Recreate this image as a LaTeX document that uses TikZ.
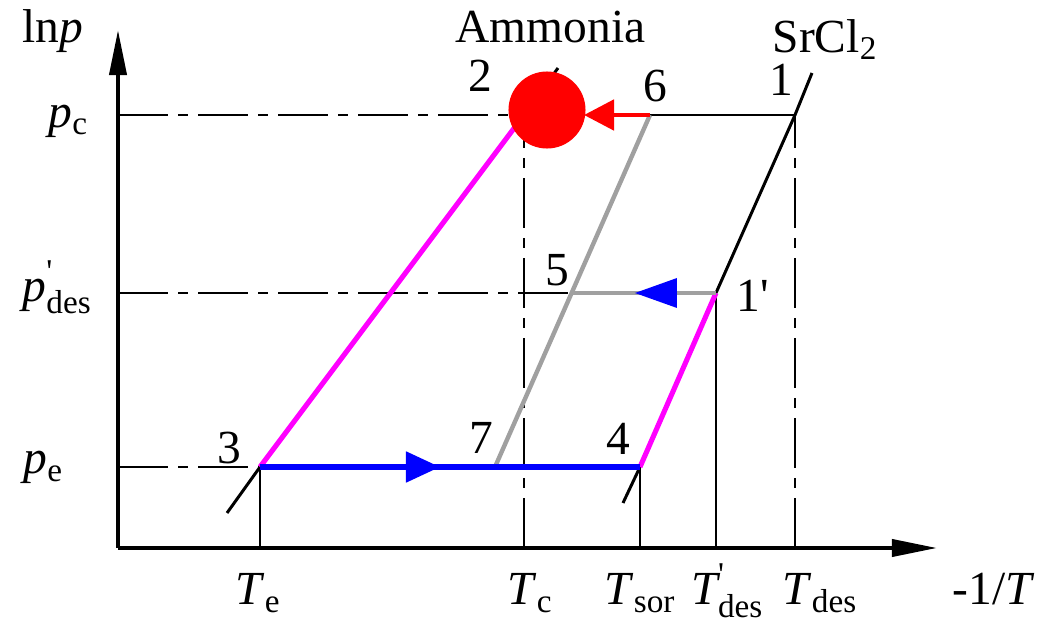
\documentclass[tikz,border=0pt]{standalone}
\usepackage{amsmath}
\usepackage{fontspec}
\setmainfont{Liberation Serif}
\usetikzlibrary{arrows.meta}
\definecolor{desmagenta}{RGB}{255, 0, 255}
\definecolor{flowblue}{RGB}{0, 0, 255}
\definecolor{heatgray}{RGB}{160, 160, 160}
\definecolor{flowred}{RGB}{255, 0, 0}

\tikzset{
  axisline/.style={line width=1.1pt, -{Triangle[length=0.45cm, width=0.17cm]}},
  guideline/.style={line width=0.85pt, dash pattern=on 0.5cm off 0.1cm on 0.1cm off 0.1cm},
  isoline/.style={line width=0.85pt},
  lbl/.style={font=\fontsize{13.5}{16}\selectfont, inner sep=0pt},
}

\begin{document}
\begin{tikzpicture}[x=0.01cm, y=-0.01cm, >=Stealth]
  \useasboundingbox (0,0) rectangle (1041,621);

  % Cycle state points
  \coordinate (O)   at (118,548);
  \coordinate (p1)  at (795,115);
  \coordinate (p1d) at (716,293);
  \coordinate (p2)  at (524,115);
  \coordinate (p3)  at (260,467);
  \coordinate (p4)  at (640,467);
  \coordinate (p5)  at (571,293);
  \coordinate (p6)  at (650,115);
  \coordinate (p7)  at (495,467);

  % Axes
  \coordinate (ytip) at (118,30);
  \coordinate (xtip) at (937,548);
  \draw[axisline] (O) -- (ytip);
  \draw[axisline] (O) -- (xtip);

  % Pressure levels
  \draw[guideline] (118,115) -- (p2);
  \draw[guideline] (118,293) -- (p5);
  \draw[guideline] (118,467) -- (p3);

  % Temperature drops to the axis
  \draw[guideline] (524,548) -- (p2);
  \draw[guideline] (795,548) -- (p1);
  \draw[isoline] (260,548) -- (p3);
  \draw[isoline] (640,548) -- (p4);
  \draw[isoline] (716,548) -- (p1d);

  % Isosteres and their short tails
  \coordinate (srtop) at (812,73);
  \coordinate (nhtop) at (558,68);
  \coordinate (tail3) at (227,513);
  \coordinate (tail4) at (623,503);
  \draw[isoline] (p1d) -- (p1) -- (srtop);
  \draw[isoline] (p2) -- (nhtop);
  \draw[isoline] (p3) -- (tail3);
  \draw[isoline] (p4) -- (tail4);
  \draw[isoline] (p6) -- (p1);

  % Heating and cooling legs
  \draw[desmagenta, line width=1.45pt] (p3) -- (p2);
  \draw[desmagenta, line width=1.45pt] (p4) -- (p1d);
  \draw[heatgray, line width=1.25pt] (p7) -- (p6);
  \draw[heatgray, line width=1.25pt] (p5) -- (p1d);

  % Evaporation leg
  \coordinate (bluetip) at (440,467);
  \draw[flowblue, line width=1.45pt] (p3) -- (p4);
  \draw[flowblue, line width=1.45pt, -{Triangle[length=0.34cm, width=0.3cm]}] (p3) -- (bluetip);
  \fill[flowblue] (635,293) -- (677,278) -- (677,308) -- cycle;

  % Condensation leg into the ammonia vessel
  \coordinate (redtip) at (584,115);
  \draw[flowred, line width=1.4pt, -{Triangle[length=0.3cm, width=0.3cm]}] (p6) -- (redtip);
  \fill[flowred] (547,110) circle[radius=0.385cm];

  % Axis labels
  \node[lbl, anchor=base west] (lnp) at (22,42) {ln\textit{p}};
  \node[lbl, anchor=base west] (pc) at (48,127) {\textit{p}\textsubscript{c}};
  \node[lbl, anchor=base west] (pdes) at (22,301) {$\textit{p}^{\text{\textquotesingle}}_{\text{des}}$};
  \node[lbl, anchor=base west] (pe) at (23,474) {\textit{p}\textsubscript{e}};
  \node[lbl, anchor=base west] (Te) at (235,605) {\textit{T}\textsubscript{e}};
  \node[lbl, anchor=base west] (Tc) at (507,605) {\textit{T}\textsubscript{c}};
  \node[lbl, anchor=base west] (Tsor) at (604,605) {\textit{T}\textsubscript{sor}};
  \node[lbl, anchor=base west] (Tdesd) at (691,605) {$\textit{T}^{\text{\textquotesingle}}_{\text{des}}$};
  \node[lbl, anchor=base west] (Tdes) at (782,605) {\textit{T}\textsubscript{des}};
  \node[lbl, anchor=base west] (invT) at (952,605) {-1/\textit{T}};

  % Substance names
  \node[lbl, anchor=base west] (nh3) at (455,43) {Ammonia};
  \node[lbl, anchor=base west] (srcl) at (772,52) {SrCl\textsubscript{2}};

  % State numbers
  \node[lbl, anchor=base] (n1) at (781,95) {1};
  \node[lbl, anchor=base] (n1d) at (753,312) {1\textquotesingle};
  \node[lbl, anchor=base] (n2) at (480,92) {2};
  \node[lbl, anchor=base] (n3) at (229,463) {3};
  \node[lbl, anchor=base] (n4) at (618,455) {4};
  \node[lbl, anchor=base] (n5) at (557,285) {5};
  \node[lbl, anchor=base] (n6) at (655,101) {6};
  \node[lbl, anchor=base] (n7) at (481,453) {7};

\end{tikzpicture}
\end{document}
